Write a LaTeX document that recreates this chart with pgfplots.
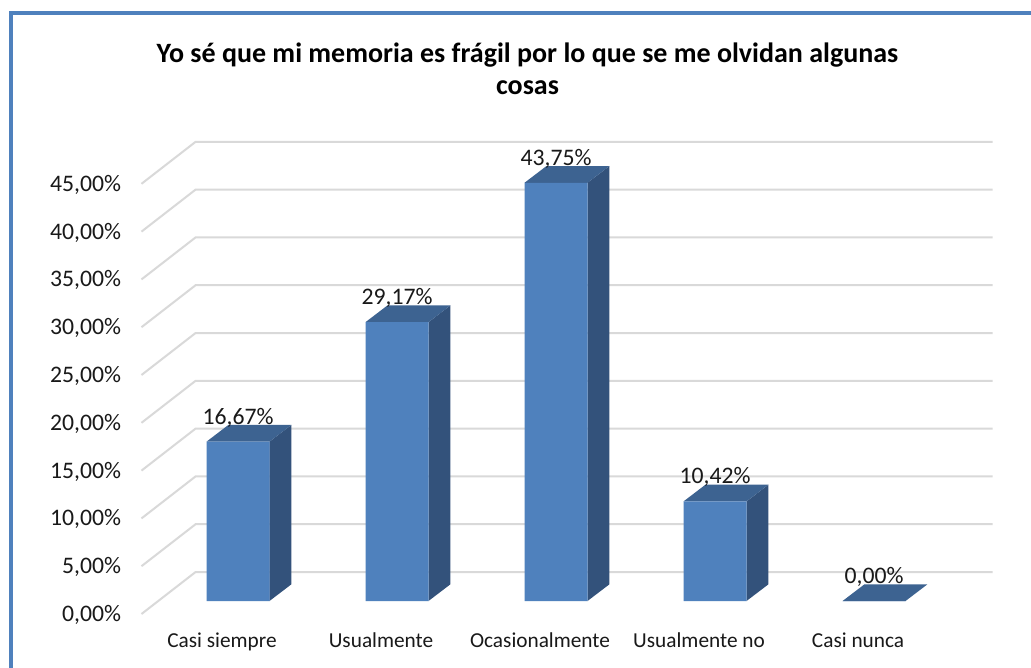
\documentclass[border=0pt]{standalone}
\usepackage{fontspec}
\setmainfont{Carlito}
\usepackage{pgfplots}
\pgfplotsset{compat=1.18}
\definecolor{front}{HTML}{4F81BD}
\definecolor{sidec}{HTML}{33527B}
\definecolor{topc}{HTML}{3D6391}
\definecolor{gridc}{HTML}{D9D9D9}
\pgfplotsset{
  gl/.style={draw=gridc,line width=2pt,no markers,sharp plot},
  sf/.style={fill=sidec,draw=none,no markers},
  tf/.style={fill=topc,draw=none,no markers},
}
\begin{document}
\begin{tikzpicture}[x=1pt,y=1pt]
\useasboundingbox (0,0) rectangle (1031,667);
\fill[white] (0,0) rectangle (1031,667);
\begin{scope}
\clip (0,0) rectangle (1031,667);
\draw[front,line width=4pt] (11,-10) -- (11,654) -- (1040,654);
\end{scope}
\begin{axis}[
  at={(124.5pt,42pt)},anchor=south west,
  scale only axis,width=875pt,height=495pt,
  xmin=-0.7138,xmax=4.789,ymin=-2.51,ymax=49.27,
  clip=false,
  axis line style={draw=none},
  tick style={draw=none},
  major tick length=0pt,
  xtick={0,1,2,3,4},
  xticklabels={Casi siempre,Usualmente,Ocasionalmente,Usualmente no,Casi nunca},
  xticklabel style={font=\fontsize{21.3}{24}\selectfont,xshift=-16pt,yshift=-4pt,text=black!90},
  ytick={0,5,10,15,20,25,30,35,40,45},
  yticklabel={\pgfmathprintnumber{\tick}\%},
  yticklabel style={font=\fontsize{23.7}{26}\selectfont,yshift=-14pt,text=black!90,
    /pgf/number format/.cd,fixed,fixed zerofill,precision=2,use comma,assume math mode=true},
  title={Yo sé que mi memoria es frágil por lo que se me olvidan algunas\\cosas},
  title style={at={(0.4606,1)},anchor=south,yshift=26pt,align=center,
    font=\fontsize{28}{32}\selectfont\bfseries},
]
% gridlines
\addplot[gl] coordinates {(-0.607,-1.36) (-0.267,3.03) (4.745,3.03)};
\addplot[gl] coordinates {(-0.607,3.64) (-0.267,8.03) (4.745,8.03)};
\addplot[gl] coordinates {(-0.607,8.64) (-0.267,13.03) (4.745,13.03)};
\addplot[gl] coordinates {(-0.607,13.64) (-0.267,18.03) (4.745,18.03)};
\addplot[gl] coordinates {(-0.607,18.64) (-0.267,23.03) (4.745,23.03)};
\addplot[gl] coordinates {(-0.607,23.64) (-0.267,28.03) (4.745,28.03)};
\addplot[gl] coordinates {(-0.607,28.64) (-0.267,33.03) (4.745,33.03)};
\addplot[gl] coordinates {(-0.607,33.64) (-0.267,38.03) (4.745,38.03)};
\addplot[gl] coordinates {(-0.607,38.64) (-0.267,43.03) (4.745,43.03)};
\addplot[gl] coordinates {(-0.607,43.64) (-0.267,48.03) (4.745,48.03)};
% side faces
\addplot[sf] coordinates {(0.198,0) (0.336,1.75) (0.336,18.42) (0.198,16.67)} --cycle;
\addplot[sf] coordinates {(1.198,0) (1.336,1.75) (1.336,30.92) (1.198,29.17)} --cycle;
\addplot[sf] coordinates {(2.198,0) (2.336,1.75) (2.336,45.50) (2.198,43.75)} --cycle;
\addplot[sf] coordinates {(3.198,0) (3.336,1.75) (3.336,12.17) (3.198,10.42)} --cycle;
% top faces
\addplot[tf] coordinates {(-0.198,16.67) (0.198,16.67) (0.336,18.42) (-0.06,18.42)} --cycle;
\addplot[tf] coordinates {(0.802,29.17) (1.198,29.17) (1.336,30.92) (0.94,30.92)} --cycle;
\addplot[tf] coordinates {(1.802,43.75) (2.198,43.75) (2.336,45.50) (1.94,45.50)} --cycle;
\addplot[tf] coordinates {(2.802,10.42) (3.198,10.42) (3.336,12.17) (2.94,12.17)} --cycle;
\addplot[tf] coordinates {(3.802,0) (4.198,0) (4.336,1.75) (3.94,1.75)} --cycle;
% front faces
\addplot[ybar,bar width=63pt,bar shift=0pt,fill=front,draw=none,
  nodes near coords={\pgfmathprintnumber{\pgfplotspointmeta}\%},
  every node near coord/.append style={anchor=center,yshift=24pt,text=black!90,
    font=\fontsize{23.7}{26}\selectfont,
    /pgf/number format/.cd,fixed,fixed zerofill,precision=2,use comma,assume math mode=true},
] coordinates {(0,16.67) (1,29.17) (2,43.75) (3,10.42) (4,0)};
\end{axis}
\end{tikzpicture}
\end{document}
